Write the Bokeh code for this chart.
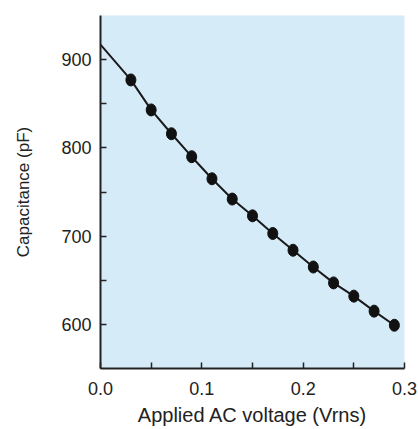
from bokeh.plotting import figure
from bokeh.models import Range1d, FixedTicker, CustomJSTickFormatter
from bokeh.embed import file_html
from bokeh.resources import INLINE

# Data
voltage = [0.03, 0.05, 0.07, 0.09, 0.11, 0.13, 0.15, 0.17, 0.19, 0.21, 0.23, 0.25, 0.27, 0.29]
capacitance = [877, 843, 816, 790, 765, 742, 723, 703, 684, 665, 647, 632, 615, 599]
fit_x = [0.0, 0.03, 0.05, 0.07, 0.09, 0.11, 0.13, 0.15, 0.17, 0.19, 0.21, 0.23, 0.25, 0.27, 0.29]
fit_y = [917, 877, 843, 816, 790, 765, 742, 723, 703, 684, 665, 647, 632, 615, 599]
x_ticks = [0.0, 0.1, 0.2, 0.3]
y_ticks = [600, 700, 800, 900]

FONT = "Liberation Sans"
TEXT = "#222222"

p = figure(width=418, height=429, output_backend="svg", toolbar_location=None,
           x_range=Range1d(0.0, 0.3), y_range=Range1d(550, 950))
p.min_border_left = 100
p.min_border_right = 14
p.min_border_top = 15
p.min_border_bottom = 61
p.background_fill_color = "#d5ebf8"
p.border_fill_color = "white"
p.outline_line_color = None
p.grid.visible = False

p.line(fit_x, fit_y, line_color="#1a1a1a", line_width=2)
p.ellipse(voltage, capacitance, width=10, height=12, width_units="screen",
          height_units="screen", fill_color="#111111", line_color="#111111")

xa = p.xaxis[0]
xa.ticker = FixedTicker(ticks=x_ticks, minor_ticks=[0.05, 0.15, 0.25])
xa.axis_label = "Applied AC voltage (Vrns)"
xa.formatter = CustomJSTickFormatter(code="return tick.toFixed(1);")
ya = p.yaxis[0]
ya.ticker = FixedTicker(ticks=y_ticks, minor_ticks=[650, 750, 850])
ya.axis_label = "Capacitance (pF)"

for ax in (xa, ya):
    ax.axis_line_color = "#222222"
    ax.axis_line_width = 2
    ax.major_tick_in = 6
    ax.major_tick_out = 0
    ax.minor_tick_in = 6
    ax.minor_tick_out = 0
    ax.major_tick_line_color = "#222222"
    ax.minor_tick_line_color = "#222222"
    ax.major_tick_line_width = 1.5
    ax.minor_tick_line_width = 1.5
    ax.major_label_text_font = FONT
    ax.major_label_text_font_size = "18px"
    ax.major_label_text_color = TEXT
    ax.axis_label_text_font = FONT
    ax.axis_label_text_font_style = "normal"
    ax.axis_label_text_color = TEXT

xa.major_label_standoff = 13
xa.axis_label_standoff = 6
xa.axis_label_text_font_size = "20px"
ya.major_label_standoff = 9
ya.axis_label_standoff = 25
ya.axis_label_text_font_size = "17px"

open("out.html", "w").write(file_html(p, INLINE))
